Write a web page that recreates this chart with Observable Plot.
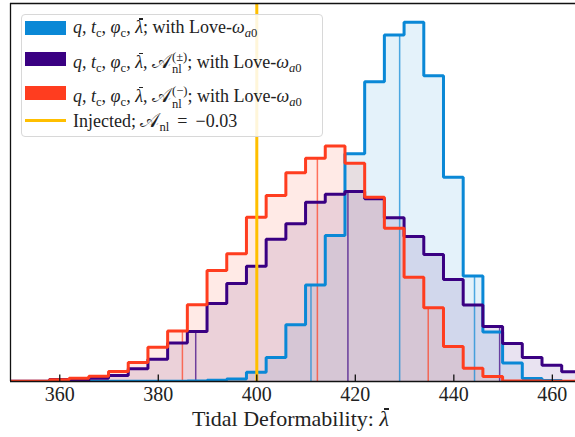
<!DOCTYPE html>
<html><head><meta charset="utf-8">
<script src="https://cdn.jsdelivr.net/npm/d3@7"></script>
<script src="https://cdn.jsdelivr.net/npm/@observablehq/plot@0.6"></script>
<style>
body{margin:0;background:#fff;}
#wrap{position:relative;width:575px;height:437px;overflow:hidden;font-family:"Liberation Serif","Times New Roman","DejaVu Serif",serif;color:#222;}
#legend{position:absolute;left:20.5px;top:13.5px;width:302px;height:123px;background:rgba(255,255,255,0.85);border:1px solid #d8d8d8;border-radius:4px;box-sizing:border-box;}
.patch{position:absolute;left:3.5px;width:40.5px;height:14px;}
.lline{position:absolute;left:3.5px;width:40.5px;height:3px;}
.row{position:absolute;left:51.5px;font-size:18px;line-height:18px;white-space:nowrap;}
.row sub{font-size:0.7em;vertical-align:-0.28em;line-height:0;}
.ss{display:inline-flex;flex-direction:column;font-size:0.7em;line-height:1;vertical-align:7px;margin-left:1px;}
.ss span{display:block;}
.cal{font-family:"DejaVu Sans","Noto Sans",serif;font-style:normal;font-size:1.12em;line-height:0;}
.op{padding:0 0.2em;}
.lb{display:inline-block;position:relative;}
.lb::after{content:"";position:absolute;left:0.22em;right:0.02em;top:0.02em;height:0.06em;background:currentColor;}
</style>
</head><body>
<div id="wrap"><div id="chart"></div><div id="legend"></div></div>
<script>
// ---------- data ----------
const binStart = 349.9;     // left edge of first bin
const binWidth = 4;         // bin width (tidal deformability units)
// bin heights (arbitrary density units), null = no bin for that series
const blueCounts   = [null,null,null,null,0.2,0.2,0.2,0.3,0.3,0.4,1.2,2.5,9.3,24,56.7,96.5,146,227.7,299.7,346.5,359.3,305.7,204.3,105.5,49.5,18.5,3,1,null];
const purpleCounts = [0.2,0.3,2,1,3.3,6,12.7,22.3,38.5,50,78,98,115.3,142.3,157.7,179.3,187.3,190,182.7,163.7,145,127,102,76.5,55,38,24,16.3,9.7];
const redCounts    = [0.3,0.3,1.7,3.3,5.2,10,19,34.3,50.5,76.8,111,127.7,164.3,186,208.7,223.3,235.5,218.3,184.3,153.3,104.3,73.7,35,13.3,5,0.5,0.4,0.3,0.3];
// 90% interval bounds and median per series
const blueCI   = [411.0, 429.0, 444.2];
const purpleCI = [387.6, 418.5, 449.3];
const redCI    = [384.9, 412.3, 434.8];
const injected = [400];
const seriesColors = ["#0a88d6", "#3a0082", "#ff3d1f"];
const injectedColor = "#ffbf00";
const xTicks = [360, 380, 400, 420, 440, 460];
const xDomain = [350, 464.7];
const yMax = 378;
const xLabel = "Tidal Deformability: ";
const lam = '<i class="lb">λ</i>';
const legendLabels = [
  `<i>q</i>, <i>t</i><sub>c</sub>, <i>φ</i><sub>c</sub>, ${lam}; with Love-<i>ω</i><sub><i>a</i>0</sub>`,
  `<i>q</i>, <i>t</i><sub>c</sub>, <i>φ</i><sub>c</sub>, ${lam}, <span class="cal">𝒜</span><span class="ss"><span>(±)</span><span>nl</span></span>; with Love-<i>ω</i><sub><i>a</i>0</sub>`,
  `<i>q</i>, <i>t</i><sub>c</sub>, <i>φ</i><sub>c</sub>, ${lam}, <span class="cal">𝒜</span><span class="ss"><span>(−)</span><span>nl</span></span>; with Love-<i>ω</i><sub><i>a</i>0</sub>`,
  'Injected; <span class="cal">𝒜</span><sub>nl</sub> <span class="op">=</span> −0.03'
];

// ---------- helpers ----------
function outline(counts) {
  const pts = [];
  let lastEdge = null;
  counts.forEach((c, i) => {
    if (c == null) return;
    const x0 = binStart + i * binWidth, x1 = x0 + binWidth;
    if (lastEdge === null) pts.push({x: x0, y: 0});
    pts.push({x: x0, y: c}, {x: x1, y: c});
    lastEdge = x1;
  });
  pts.push({x: lastEdge, y: 0});
  return pts;
}
function heightAt(counts, v) {
  const i = Math.floor((v - binStart) / binWidth);
  return counts[i] ?? 0;
}
const series = [
  {counts: blueCounts, ci: blueCI, color: seriesColors[0]},
  {counts: purpleCounts, ci: purpleCI, color: seriesColors[1]},
  {counts: redCounts, ci: redCI, color: seriesColors[2]}
];
const fills = series.map(s => Plot.areaY(outline(s.counts), {x: "x", y1: 0, y2: "y", fill: s.color, fillOpacity: 0.11, clip: true}));
const ciRules = series.map(s => Plot.ruleX(s.ci.map(v => ({v, h: heightAt(s.counts, v)})), {x: "v", y1: 0, y2: "h", stroke: s.color, strokeOpacity: 0.7, strokeWidth: 1.5, clip: true}));
const lines = series.map(s => Plot.line(outline(s.counts), {x: "x", y: "y", stroke: s.color, strokeWidth: 3, strokeLinejoin: "miter", clip: true}));

const chart = Plot.plot({
  width: 575, height: 437,
  marginLeft: 10, marginRight: 0, marginTop: 3, marginBottom: 56,
  style: {fontFamily: '"Liberation Serif","Times New Roman","DejaVu Serif",serif', fontSize: "20px", color: "#222", background: "white"},
  x: {domain: xDomain},
  y: {domain: [0, yMax], axis: null},
  marks: [
    ...fills,
    ...ciRules,
    ...lines,
    Plot.ruleX(injected, {stroke: injectedColor, strokeWidth: 3}),
    Plot.ruleX(xTicks, {y1: 0, y2: 6.5, stroke: "#111", strokeWidth: 1.3}),
    Plot.ruleY([0, yMax], {stroke: "#111", strokeWidth: 1.3}),
    Plot.ruleX([xDomain[0]], {stroke: "#111", strokeWidth: 1.3}),
    Plot.axisX({ticks: xTicks, tickSize: 0, tickPadding: 5.5, tickFormat: d => String(d), fontSize: 20, label: null})
  ]
});
document.getElementById("chart").appendChild(chart);

// x label as positioned text (allows italic barred lambda)
const xl = document.createElement("div");
xl.style.cssText = "position:absolute;left:0;width:581px;top:408px;text-align:center;font-size:22px;line-height:22px;white-space:nowrap;";
xl.innerHTML = xLabel + lam;
document.getElementById("wrap").appendChild(xl);

// ---------- legend ----------
const lg = document.getElementById("legend");
const patchTops = [6.5, 37.8, 71.5];
const rowTops = [3.6, 36.2, 70.5, 97.2];
legendLabels.forEach((lab, i) => {
  if (i < 3) {
    const p = document.createElement("div");
    p.className = "patch"; p.style.top = patchTops[i] + "px"; p.style.background = seriesColors[i];
    lg.appendChild(p);
  } else {
    const l = document.createElement("div");
    l.className = "lline"; l.style.top = "104.5px"; l.style.background = injectedColor;
    lg.appendChild(l);
  }
  const r = document.createElement("div");
  r.className = "row"; r.style.top = rowTops[i] + "px"; r.innerHTML = lab;
  lg.appendChild(r);
});
</script>
</body></html>
